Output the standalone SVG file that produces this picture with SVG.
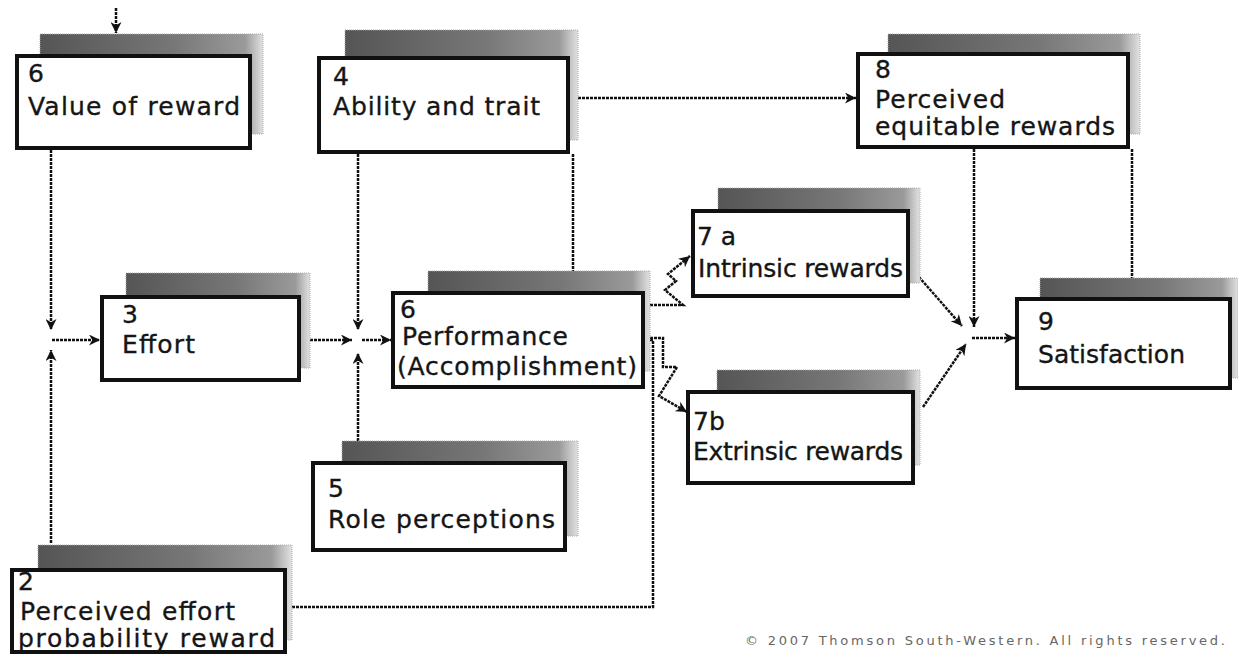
<svg xmlns="http://www.w3.org/2000/svg" width="1238" height="654" viewBox="0 0 1238 654">
<style>
.sh{fill:url(#shg);stroke:#aaa;stroke-width:1;stroke-dasharray:1 1}
.bx{fill:#fff;stroke:#111;stroke-width:4}
.t{font-family:"DejaVu Sans","Verdana",sans-serif;font-size:25px;fill:#151515;stroke:#151515;stroke-width:0.35}
.c{fill:none;stroke:#111;stroke-width:2.5;stroke-dasharray:3 1}
.a{marker-end:url(#ah)}
.cp{font-family:"DejaVu Sans",sans-serif;font-size:13px;fill:#666}
</style>
<defs>
<linearGradient id="shg" x1="0" y1="0" x2="1" y2="0">
<stop offset="0" stop-color="#555"/>
<stop offset="0.6" stop-color="#777"/>
<stop offset="0.92" stop-color="#9a9a9a"/>
<stop offset="1" stop-color="#e2e2e2"/>
</linearGradient>
<marker id="ah" viewBox="0 0 10 10" refX="10" refY="5" markerWidth="14" markerHeight="11" orient="auto" markerUnits="userSpaceOnUse">
<path d="M0,0 L10,5 L0,10 L3,5 z" fill="#111"/>
</marker>
</defs>
<rect width="1238" height="654" fill="#fff"/>

<g id="connectors">
<path class="c a" d="M116,8 V33"/>
<path class="c a" d="M51,150 V330"/>
<path class="c a" d="M51,543 V350"/>
<path class="c a" d="M52,340 H100"/>
<path class="c a" d="M302,340 H352"/>
<path class="c a" d="M358,154 V330"/>
<path class="c a" d="M358,441 V353"/>
<path class="c a" d="M362,340 H391"/>
<path class="c a" d="M570,98 H856"/>
<path class="c" d="M573,154 V271"/>
<path class="c a" d="M646,305 H683 L665,290 L676,281 L668,274 L690,256"/>
<path class="c a" d="M646,338 H663 V367 H677 L659,396 L687,412"/>
<path class="c" d="M646,340 H653 V607 H287"/>
<path class="c a" d="M911,268 L962,326"/>
<path class="c a" d="M923,407 L966,344"/>
<path class="c a" d="M974,149 V327"/>
<path class="c" d="M1132,149 V278"/>
<path class="c a" d="M972,338 H1015"/>
</g>

<g id="n6-value">
<rect class="sh" x="40" y="34" width="223" height="100"/>
<rect class="bx" x="17" y="56" width="233" height="92"/>
<text class="t" x="28" y="82">6</text>
<text class="t" x="28" y="115" textLength="212" lengthAdjust="spacing">Value of reward</text>
</g>

<g id="n4-ability">
<rect class="sh" x="345" y="30" width="233" height="110"/>
<rect class="bx" x="319" y="58" width="249" height="94"/>
<text class="t" x="333" y="85">4</text>
<text class="t" x="333" y="115" textLength="207" lengthAdjust="spacing">Ability and trait</text>
</g>

<g id="n8-equitable">
<rect class="sh" x="888" y="34" width="252" height="100"/>
<rect class="bx" x="858" y="54" width="270" height="93"/>
<text class="t" x="875" y="78">8</text>
<text class="t" x="875" y="108" textLength="130" lengthAdjust="spacing">Perceived</text>
<text class="t" x="875" y="135" textLength="240" lengthAdjust="spacing">equitable rewards</text>
</g>

<g id="n3-effort">
<rect class="sh" x="126" y="273" width="184" height="95"/>
<rect class="bx" x="102" y="297" width="197" height="83"/>
<text class="t" x="122" y="323">3</text>
<text class="t" x="122" y="353" textLength="73" lengthAdjust="spacing">Effort</text>
</g>

<g id="n6-performance">
<rect class="sh" x="428" y="271" width="222" height="100"/>
<rect class="bx" x="393" y="293" width="250" height="94"/>
<text class="t" x="400" y="318">6</text>
<text class="t" x="402" y="345" textLength="166" lengthAdjust="spacing">Performance</text>
<text class="t" x="397" y="375" textLength="240" lengthAdjust="spacing">(Accomplishment)</text>
</g>

<g id="n7a-intrinsic">
<rect class="sh" x="718" y="188" width="202" height="95"/>
<rect class="bx" x="693" y="211" width="215" height="85"/>
<text class="t" x="697" y="245">7 a</text>
<text class="t" x="698" y="277" textLength="205" lengthAdjust="spacing">Intrinsic rewards</text>
</g>

<g id="n7b-extrinsic">
<rect class="sh" x="717" y="370" width="203" height="95"/>
<rect class="bx" x="688" y="392" width="225" height="91"/>
<text class="t" x="693" y="430">7b</text>
<text class="t" x="693" y="460" textLength="210" lengthAdjust="spacing">Extrinsic rewards</text>
</g>

<g id="n9-satisfaction">
<rect class="sh" x="1040" y="278" width="198" height="100"/>
<rect class="bx" x="1017" y="299" width="213" height="89"/>
<text class="t" x="1038" y="330">9</text>
<text class="t" x="1038" y="363" textLength="147" lengthAdjust="spacing">Satisfaction</text>
</g>

<g id="n5-role">
<rect class="sh" x="342" y="441" width="236" height="95"/>
<rect class="bx" x="313" y="463" width="252" height="87"/>
<text class="t" x="328" y="497">5</text>
<text class="t" x="328" y="528" textLength="227" lengthAdjust="spacing">Role perceptions</text>
</g>

<g id="n2-probability">
<rect class="sh" x="38" y="545" width="254" height="95"/>
<rect class="bx" x="12" y="570" width="273" height="82"/>
<text class="t" x="18" y="590">2</text>
<text class="t" x="20" y="620" textLength="215" lengthAdjust="spacing">Perceived effort</text>
<text class="t" x="18" y="647" textLength="257" lengthAdjust="spacing">probability reward</text>
</g>

<text class="cp" x="745" y="645" textLength="480" lengthAdjust="spacing">© 2007 Thomson South-Western. All rights reserved.</text>
</svg>
